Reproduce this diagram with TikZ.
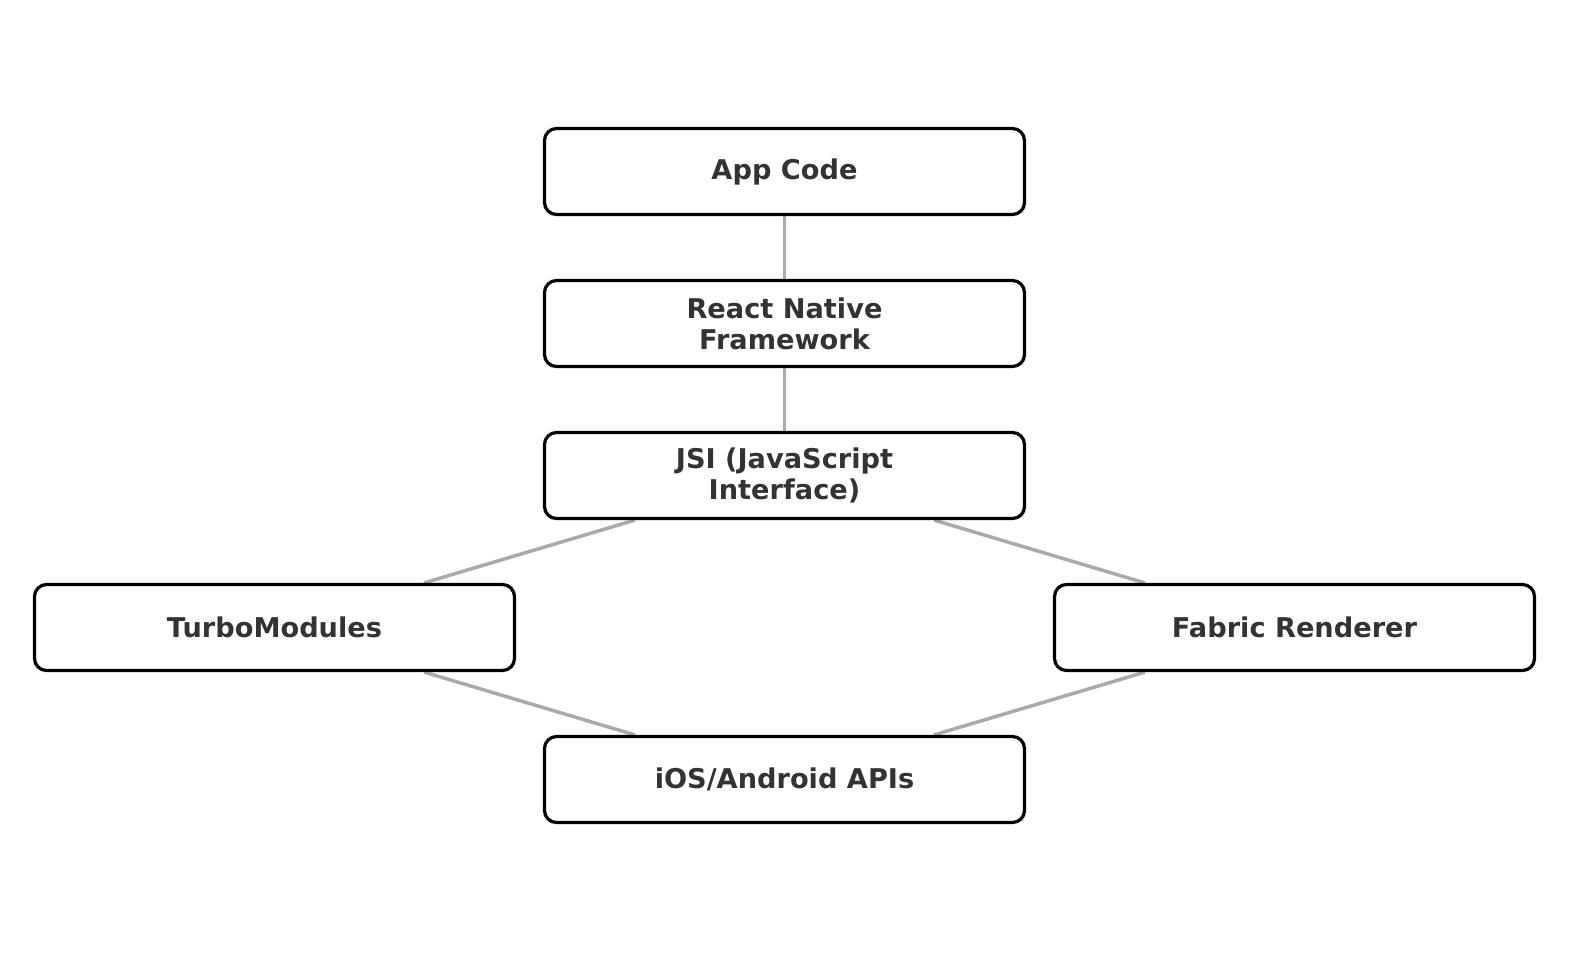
\documentclass[tikz,border=0pt]{standalone}
\usepackage{fontspec}
\setmainfont{DejaVu Sans}
\usetikzlibrary{backgrounds}
\definecolor{txt}{HTML}{333333}
\definecolor{edge}{HTML}{AAAAAA}
\tikzset{
  box/.style={draw=black, line width=1.6pt, rounded corners=6pt, fill=white,
    minimum width=240pt, minimum height=43pt, inner sep=0pt,
    align=center, text=txt, font=\fontsize{13.6pt}{15.5pt}\selectfont\bfseries},
  link/.style={draw=edge, line width=1.75pt}
}
\begin{document}
\begin{tikzpicture}[x=0.5pt,y=-0.5pt]
\useasboundingbox (0,0) rectangle (1589,964);
\node[box] (app) at (784.5,171.5) {App Code};
\node[box] (rn) at (784.5,323.5) {React Native\\Framework};
\node[box] (jsi) at (784.5,475.5) {JSI (JavaScript\\Interface)};
\node[box] (turbo) at (274.5,627.5) {TurboModules};
\node[box] (fabric) at (1294.5,627.5) {Fabric Renderer};
\node[box] (ios) at (784.5,779.5) {iOS/Android APIs};
\begin{pgfonlayer}{background}
\draw[link] (app) -- (rn);
\draw[link] (rn) -- (jsi);
\draw[link] (jsi) -- (turbo);
\draw[link] (jsi) -- (fabric);
\draw[link] (turbo) -- (ios);
\draw[link] (fabric) -- (ios);
\end{pgfonlayer}
\end{tikzpicture}
\end{document}
